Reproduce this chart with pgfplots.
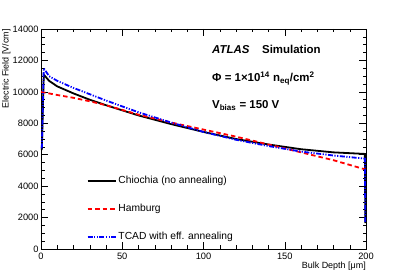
\documentclass[border=0pt]{standalone}
\usepackage{fontspec}
\setmainfont{Liberation Sans}
\usepackage{pgfplots}
\pgfplotsset{compat=1.18}
\begin{document}
\begin{tikzpicture}
\useasboundingbox (-41bp,-28bp) rectangle (366bp,249bp);
\begin{axis}[name=ax, at={(0,0)}, anchor=south west, scale only axis,
 width=325bp, height=220bp,
 xmin=0, xmax=200, ymin=0, ymax=14000,
 xtick={0,50,...,200}, minor x tick num=4,
 ytick={0,2000,...,14000}, minor y tick num=3,
 tick align=inside, major tick length=7bp, minor tick length=3.5bp,
 ticklabel style={font=\fontsize{9.3}{11}\selectfont},
 yticklabel style={xshift=1bp},
 /pgf/number format/assume math mode=true,
 /pgf/number format/1000 sep={},
 scaled y ticks=false,
 xticklabel style={yshift=-0.5bp},
 axis line style={line width=0.6bp},
 every tick/.style={line width=0.5bp, black},
 legend style={draw=none, fill=none, at={(rel axis cs:0.14,0.34)}, anchor=north west,
   font=\fontsize{10.3}{12}\selectfont, row sep=15bp, inner sep=0pt,
   cells={anchor=west}},
 legend image code/.code={\draw[#1] (0bp,0bp) -- (28bp,0bp);},
 clip=false
]
\addplot[black, line width=1.8bp] coordinates {
 (0.5,6300) (1.7,11100) (5,10700) (10,10350) (20,9900) (30,9500) (40,9150) (60,8500)
 (80,7950) (100,7450) (120,7000) (140,6650) (160,6350) (180,6150) (199.3,6050) (199.6,1650)};
\addlegendentry{Chiochia (no annealing)}
\addplot[red, line width=1.8bp, dash pattern=on 4.5bp off 3bp] coordinates {
 (0,10000) (5,9900) (10,9800) (20,9620) (30,9400) (40,9150) (60,8550) (80,8050)
 (100,7600) (120,7150) (140,6650) (160,6150) (180,5650) (200,5050)};
\addlegendentry{Hamburg}
\addplot[blue, line width=1.8bp, dash pattern=on 5bp off 1.5bp on 1.2bp off 1.5bp on 1.2bp off 1.5bp] coordinates {
 (0.5,6400) (1.7,11500) (5,11000) (10,10700) (20,10250) (30,9850) (40,9450) (60,8700)
 (80,8050) (100,7450) (120,6950) (140,6550) (160,6200) (180,5950) (199.3,5750) (199.6,1700)};
\addlegendentry{TCAD with eff. annealing}
\end{axis}
\node[rotate=90, anchor=north east, font=\fontsize{9}{11}\selectfont, inner sep=0pt]
  at ([xshift=-39bp]ax.north west) {Electric Field [V/cm]};
\node[anchor=north east, font=\fontsize{9}{11}\selectfont, inner sep=0pt]
  at ([yshift=-13bp]ax.south east) {Bulk Depth [μm]};
\node[anchor=base west, font=\fontsize{11.5}{13}\selectfont\bfseries, inner sep=0pt]
  at ([xshift=171bp,yshift=-25bp]ax.north west) {\textit{ATLAS}\hspace{1.1em}Simulation};
\node[anchor=base west, font=\fontsize{11.5}{13}\selectfont\bfseries, inner sep=0pt]
  at ([xshift=171bp,yshift=-53bp]ax.north west) {Φ = 1×10\textsuperscript{14} n\textsubscript{eq}/cm\textsuperscript{2}};
\node[anchor=base west, font=\fontsize{11.5}{13}\selectfont\bfseries, inner sep=0pt]
  at ([xshift=171bp,yshift=-80bp]ax.north west) {V\textsubscript{bias} = 150 V};
\end{tikzpicture}
\end{document}
